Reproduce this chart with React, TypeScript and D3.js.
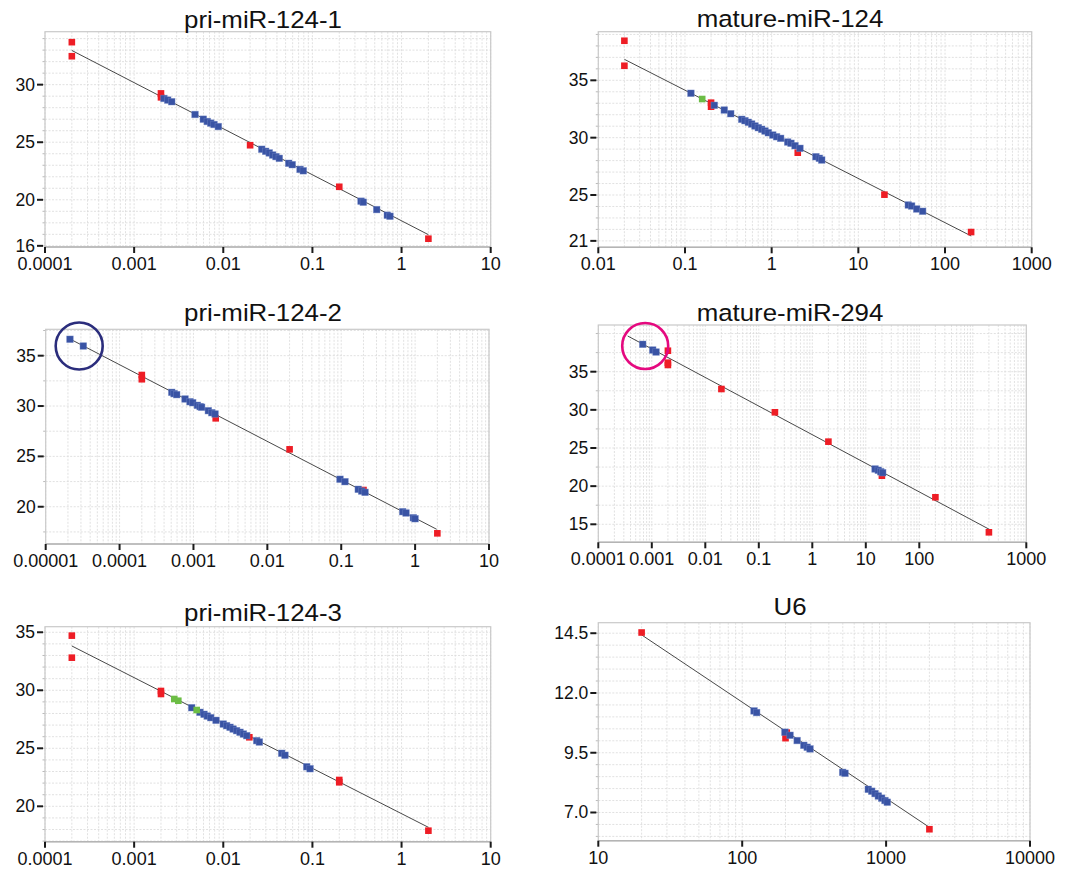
import React from 'react';
import * as d3 from 'd3';

type Pt = [number, number];

// ---------- pri-miR-124-1 ----------
const p1Std: Pt[] = [[0.0002, 33.69], [0.0002, 32.47], [0.002, 29.24], [0.002, 28.9], [0.02, 24.74], [0.2, 21.13], [2, 16.62]];
const p1Smp: Pt[] = [
  [0.00216, 28.8], [0.00238, 28.66], [0.00264, 28.52], [0.00482, 27.41], [0.00597, 27.0], [0.00662, 26.8],
  [0.00722, 26.66], [0.00787, 26.54], [0.0088, 26.36], [0.027, 24.39], [0.0299, 24.21], [0.0328, 24.07],
  [0.0358, 23.89], [0.039, 23.75], [0.0425, 23.6], [0.0542, 23.17], [0.0594, 23.05], [0.0726, 22.64],
  [0.079, 22.52], [0.351, 19.88], [0.372, 19.79], [0.526, 19.15], [0.692, 18.66], [0.741, 18.57]];
const p1Ctl: Pt[] = [];
const p1Fit: Pt[] = [[0.0002, 32.97], [2, 16.97]];

// ---------- mature-miR-124 ----------
const p2Std: Pt[] = [[0.02, 38.45], [0.02, 36.27], [0.2, 33.05], [0.2, 32.7], [2, 28.69], [20, 25.03], [200, 21.77]];
const p2Smp: Pt[] = [
  [0.117, 33.87], [0.218, 32.82], [0.284, 32.41], [0.337, 32.09], [0.451, 31.6], [0.492, 31.48], [0.538, 31.34],
  [0.588, 31.19], [0.642, 31.02], [0.702, 30.87], [0.767, 30.73], [0.838, 30.58], [0.915, 30.43], [1.03, 30.23],
  [1.14, 30.08], [1.27, 29.94], [1.53, 29.62], [1.67, 29.51], [1.86, 29.3], [2.12, 29.07], [3.24, 28.34],
  [3.55, 28.2], [3.78, 28.05], [37.7, 24.13], [41.2, 24.04], [47.1, 23.78], [55.2, 23.58]];
const p2Ctl: Pt[] = [[0.158, 33.37]];
const p2Fit: Pt[] = [[0.02, 36.83], [200, 21.43]];

// ---------- pri-miR-124-2 ----------
const p3Std: Pt[] = [[0.0002, 33.08], [0.0002, 32.66], [0.002, 28.78], [0.02, 25.7], [0.2, 21.66], [2, 17.36]];
const p3Smp: Pt[] = [
  [2.13e-5, 36.63], [3.23e-5, 35.96], [5.08e-4, 31.36], [5.46e-4, 31.23], [5.93e-4, 31.13], [7.69e-4, 30.7],
  [8.98e-4, 30.43], [9.77e-4, 30.33], [1.13e-3, 30.07], [1.23e-3, 29.94], [1.29e-3, 29.88], [1.59e-3, 29.54],
  [1.77e-3, 29.34], [1.96e-3, 29.21], [0.0962, 22.73], [0.1124, 22.49], [0.17, 21.73], [0.189, 21.56],
  [0.21, 21.43], [0.679, 19.51], [0.753, 19.38], [0.946, 18.91], [0.998, 18.81]];
const p3Ctl: Pt[] = [];
const p3Fit: Pt[] = [[2.13e-5, 36.66], [1.96, 17.76]];
const p3Mark: Pt[] = [[2.84e-5, 35.96]];

// ---------- mature-miR-294 ----------
const p4Std: Pt[] = [[0.002, 37.75], [0.002, 36.18], [0.002, 35.88], [0.02, 32.73], [0.2, 29.68], [2, 25.83], [20, 21.37], [200, 18.54], [2000, 13.95]];
const p4Smp: Pt[] = [[6.76e-4, 38.59], [1.04e-3, 37.84], [1.2e-3, 37.58], [14.9, 22.25], [17.1, 22.08], [19.0, 21.89], [20.7, 21.76]];
const p4Ctl: Pt[] = [];
const p4Fit: Pt[] = [[3.54e-4, 39.68], [2033, 14.34]];
const p4Mark: Pt[] = [[7.53e-4, 38.37]];

// ---------- pri-miR-124-3 ----------
const p5Std: Pt[] = [[0.0002, 34.71], [0.0002, 32.81], [0.002, 29.94], [0.002, 29.68], [0.0196, 25.95], [0.2, 22.27], [0.2, 22.07], [2, 17.9]];
const p5Smp: Pt[] = [
  [4.42e-3, 28.5], [5.48e-3, 28.1], [6.08e-3, 27.93], [6.62e-3, 27.78], [7.23e-3, 27.64], [8.29e-3, 27.41],
  [0.01, 27.09], [0.0109, 26.95], [0.0119, 26.81], [0.0129, 26.66], [0.0141, 26.52], [0.0154, 26.38],
  [0.0168, 26.23], [0.0183, 26.09], [0.0237, 25.66], [0.0254, 25.54], [0.0452, 24.57], [0.0492, 24.4],
  [0.0863, 23.41], [0.094, 23.24]];
const p5Ctl: Pt[] = [[2.82e-3, 29.25], [3.13e-3, 29.1], [5.03e-3, 28.3]];
const p5Fit: Pt[] = [[0.0002, 33.82], [2, 18.19]];

// ---------- U6 ----------
const p6Std: Pt[] = [[20, 14.53], [204, 10.34], [200, 10.11], [2000, 6.3]];
const p6Smp: Pt[] = [
  [120.8, 11.25], [126, 11.18], [198, 10.36], [215, 10.23], [241, 10.01], [268, 9.81], [283, 9.73], [296, 9.66],
  [499, 8.68], [518, 8.64], [752, 7.97], [794, 7.89], [838, 7.79], [883, 7.69], [931, 7.6], [982, 7.5], [1019, 7.43]];
const p6Ctl: Pt[] = [];
const p6Fit: Pt[] = [[20, 14.43], [2000, 6.38]];

// ---------- axes ----------
const xTicksA = [1e-4, 1e-3, 1e-2, 1e-1, 1, 10];
const xLabelsA = ['0.0001', '0.001', '0.01', '0.1', '1', '10'];
const xTicksB = [1e-2, 1e-1, 1, 10, 100, 1000];
const xLabelsB = ['0.01', '0.1', '1', '10', '100', '1000'];
const xTicksC = [1e-5, 1e-4, 1e-3, 1e-2, 1e-1, 1, 10];
const xLabelsC = ['0.00001', '0.0001', '0.001', '0.01', '0.1', '1', '10'];
const xTicksD = [1e-4, 1e-3, 1e-2, 1e-1, 1, 10, 100, 1e4];
const xLabelsD = ['0.0001', '0.001', '0.01', '0.1', '1', '10', '100', '1000'];
const xTicksE = [10, 100, 1000, 10000];
const xLabelsE = ['10', '100', '1000', '10000'];

const yTicks1 = [16, 20, 25, 30];
const yTicks2 = [21, 25, 30, 35];
const yTicks3 = [20, 25, 30, 35];
const yTicks4 = [15, 20, 25, 30, 35];
const yTicks5 = [20, 25, 30, 35];
const yTicks6 = [7.0, 9.5, 12.0, 14.5];

const COLORS = { std: '#ee1d25', smp: '#3953a4', smpEdge: '#6f86c4', ctl: '#6cbd45', fit: '#333333', grid: '#d9d9d9', border: '#c9c9c9' };
const FONT = '"Liberation Sans", Arial, Helvetica, sans-serif';

interface Panel {
  title: string; std: Pt[]; smp: Pt[]; ctl: Pt[]; fit: Pt[];
  xDomain: [number, number]; yDomain: [number, number];
  xTicks: number[]; xLabels: string[]; yTicks: number[]; yFmt: (v: number) => string; yStep: number;
  box: { x: number; y: number; w: number; h: number }; titleX: number; titleY: number;
  mark?: { p: Pt; color: string; r: number };
}

const panels: Panel[] = [
  { title: 'pri-miR-124-1', std: p1Std, smp: p1Smp, ctl: p1Ctl, fit: p1Fit, xDomain: [1e-4, 10], yDomain: [15.9, 34.6],
    xTicks: xTicksA, xLabels: xLabelsA, yTicks: yTicks1, yFmt: d3.format('d'), yStep: 1,
    box: { x: 45, y: 31.7, w: 445.7, h: 215.3 }, titleX: 263, titleY: 27.7 },
  { title: 'mature-miR-124', std: p2Std, smp: p2Smp, ctl: p2Ctl, fit: p2Fit, xDomain: [1e-2, 1000], yDomain: [20.44, 39.24],
    xTicks: xTicksB, xLabels: xLabelsB, yTicks: yTicks2, yFmt: d3.format('d'), yStep: 1,
    box: { x: 598.3, y: 31.7, w: 433.4, h: 215.6 }, titleX: 790, titleY: 26.7 },
  { title: 'pri-miR-124-2', std: p3Std, smp: p3Smp, ctl: p3Ctl, fit: p3Fit, xDomain: [1e-5, 10], yDomain: [16.3, 37.62],
    xTicks: xTicksC, xLabels: xLabelsC, yTicks: yTicks3, yFmt: d3.format('d'), yStep: 2.5,
    box: { x: 45.7, y: 329.3, w: 443.3, h: 214.7 }, titleX: 263, titleY: 320.7,
    mark: { p: p3Mark[0], color: '#2b2d7c', r: 23.5 } },
  { title: 'mature-miR-294', std: p4Std, smp: p4Smp, ctl: p4Ctl, fit: p4Fit, xDomain: [1e-4, 1e4], yDomain: [12.64, 41.12],
    xTicks: xTicksD, xLabels: xLabelsD, yTicks: yTicks4, yFmt: d3.format('d'), yStep: 2.5,
    box: { x: 598.3, y: 325, w: 428, h: 217.3 }, titleX: 790, titleY: 320.7,
    mark: { p: p4Mark[0], color: '#e5097f', r: 23 } },
  { title: 'pri-miR-124-3', std: p5Std, smp: p5Smp, ctl: p5Ctl, fit: p5Fit, xDomain: [1e-4, 10], yDomain: [16.95, 35.48],
    xTicks: xTicksA, xLabels: xLabelsA, yTicks: yTicks5, yFmt: d3.format('d'), yStep: 1,
    box: { x: 45, y: 626.7, w: 445.7, h: 215 }, titleX: 263, titleY: 620.7 },
  { title: 'U6', std: p6Std, smp: p6Smp, ctl: p6Ctl, fit: p6Fit, xDomain: [10, 10000], yDomain: [5.82, 14.94],
    xTicks: xTicksE, xLabels: xLabelsE, yTicks: yTicks6, yFmt: d3.format('.1f'), yStep: 0.5,
    box: { x: 598.3, y: 622.7, w: 431.7, h: 218 }, titleX: 790, titleY: 615 },
];

const SQ = 6.6;

function PanelView({ p }: { p: Panel }) {
  const { box } = p;
  const x = d3.scaleLog().domain(p.xDomain).range([box.x, box.x + box.w]);
  const y = d3.scaleLinear().domain(p.yDomain).range([box.y + box.h, box.y]);
  const bottom = box.y + box.h;

  const vGrid: number[] = [];
  const k0 = Math.floor(Math.log10(p.xDomain[0]) + 1e-9);
  const k1 = Math.ceil(Math.log10(p.xDomain[1]) - 1e-9);
  for (let k = k0; k <= k1; k++) {
    for (let m = 1; m <= 9; m++) {
      const v = m * Math.pow(10, k);
      if (v >= p.xDomain[0] * 0.999 && v <= p.xDomain[1] * 1.001) vGrid.push(v);
    }
  }
  const hGrid: number[] = [];
  for (let v = Math.ceil(p.yDomain[0] / p.yStep) * p.yStep; v <= p.yDomain[1] + 1e-9; v += p.yStep) hGrid.push(v);

  const line = d3.line<Pt>().x(d => x(d[0])).y(d => y(d[1]));

  const sq = (arr: Pt[], color: string, key: string, edge?: string) =>
    arr.map((d, i) => (
      <rect key={key + i} x={x(d[0]) - SQ / 2} y={y(d[1]) - SQ / 2} width={SQ} height={SQ} fill={color}
        stroke={edge || 'none'} strokeWidth={edge ? 0.7 : 0} strokeOpacity={0.6} />
    ));

  return (
    <g>
      <g stroke={COLORS.grid} strokeWidth={0.8} strokeDasharray="2,1.5">
        {vGrid.map((v, i) => <line key={'v' + i} x1={x(v)} x2={x(v)} y1={box.y} y2={bottom} />)}
        {hGrid.map((v, i) => <line key={'h' + i} x1={box.x} x2={box.x + box.w} y1={y(v)} y2={y(v)} />)}
      </g>
      <g stroke="#a8a8a8" strokeWidth={0.8}>
        {hGrid.map((v, i) => <line key={'mt' + i} x1={box.x - 2.5} x2={box.x} y1={y(v)} y2={y(v)} />)}
      </g>
      <rect x={box.x} y={box.y} width={box.w} height={box.h} fill="none" stroke={COLORS.border} strokeWidth={1.2} />
      <line x1={box.x} x2={box.x + box.w} y1={bottom} y2={bottom} stroke="#b4b4b4" strokeWidth={1.6} />
      <path d={line(p.fit) || ''} fill="none" stroke={COLORS.fit} strokeWidth={0.9} />
      {sq(p.std, COLORS.std, 's')}
      {sq(p.smp, COLORS.smp, 'b', COLORS.smpEdge)}
      {sq(p.ctl, COLORS.ctl, 'c')}
      {p.mark && (
        <circle cx={x(p.mark.p[0])} cy={y(p.mark.p[1])} r={p.mark.r} fill="none" stroke={p.mark.color} strokeWidth={2.6} />
      )}
      <g stroke="#1a1a1a" strokeWidth={2}>
        {p.xTicks.map((v, i) => <line key={'xt' + i} x1={x(v)} x2={x(v)} y1={bottom} y2={bottom + 6} />)}
        {p.yTicks.map((v, i) => <line key={'yt' + i} x1={box.x - 8} x2={box.x - 2} y1={y(v)} y2={y(v)} />)}
      </g>
      <g fontFamily={FONT} fontSize={18} fill="#111">
        {p.xTicks.map((v, i) => (
          <text key={'xl' + i} x={x(v)} y={bottom + 23} textAnchor="middle">{p.xLabels[i]}</text>
        ))}
      </g>
      <g fontFamily={FONT} fontSize={17.5} fill="#111">
        {p.yTicks.map((v, i) => (
          <text key={'yl' + i} x={box.x - 10} y={y(v)} textAnchor="end" dominantBaseline="central">{p.yFmt(v)}</text>
        ))}
      </g>
      <text transform={`translate(${p.titleX},${p.titleY}) scale(1.1,1)`} textAnchor="middle"
        fontFamily={FONT} fontSize={23.5} fill="#111">{p.title}</text>
    </g>
  );
}

export default function App() {
  return (
    <svg width={1071} height={869} viewBox="0 0 1071 869"
      style={{ position: 'absolute', left: 0, top: 0, background: '#fff' }}>
      <rect x={0} y={0} width={1071} height={869} fill="#fff" />
      {panels.map((p, i) => <PanelView key={i} p={p} />)}
    </svg>
  );
}
